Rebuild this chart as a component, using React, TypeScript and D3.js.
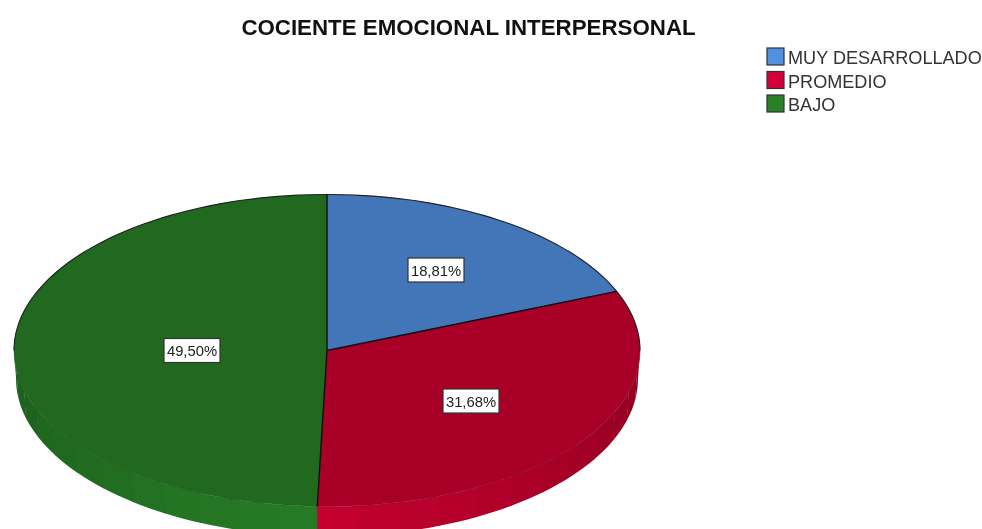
import React from "react";
import * as d3 from "d3";

const categories = ["MUY DESARROLLADO", "PROMEDIO", "BAJO"];
const percentValues = [18.81, 31.68, 49.5];
const percentLabels = ["18,81%", "31,68%", "49,50%"];
const legendColors = ["#5291e2", "#d5003a", "#288028"];
const topColors = ["#4376b8", "#a80026", "#21691f"];
const sideBright = ["#4f8ad6", "#c4002f", "#267d26"];
const sideDark = ["#3a659e", "#8e0020", "#1d5e1c"];
const title = "COCIENTE EMOCIONAL INTERPERSONAL";

const W = 982, H = 529;
const cx = 327, cy = 350.5, rx = 313, ry = 156;
const lowerRx = 311, lowerRy = 158, lowerCy = 378.5;
const FACET = (8 * Math.PI) / 180;

const pie = d3.pie<number>().sort(null).startAngle(0).endAngle(2 * Math.PI);
const arcs = pie(percentValues);
const bigArc = d3.arc<d3.PieArcDatum<number>>().innerRadius(0).outerRadius(rx);
const px = (a: number) => cx + rx * Math.sin(a);
const py = (a: number) => cy - ry * Math.cos(a);
const lx = (a: number) => cx + lowerRx * Math.sin(a);
const ly = (a: number) => lowerCy - lowerRy * Math.cos(a);

type Facet = { key: string; d: string; fill: string };
const facets: Facet[] = [];
arcs.forEach((arc, i) => {
  const start = Math.max(arc.startAngle, Math.PI / 2);
  const end = Math.min(arc.endAngle, (3 * Math.PI) / 2);
  if (end <= start) return;
  const shade = d3.interpolateRgb(sideBright[i], sideDark[i]);
  const n = Math.ceil((end - start) / FACET);
  for (let k = 0; k < n; k++) {
    const a0 = start + ((end - start) * k) / n;
    const a1 = start + ((end - start) * (k + 1)) / n;
    const mid = (a0 + a1) / 2;
    const t = Math.min(1, Math.abs(mid - Math.PI) / (Math.PI / 2));
    const steps = d3.range(0, 5).map((s) => a0 + ((a1 - a0) * s) / 4 + (s === 4 ? 0.004 : 0));
    const path = d3.path();
    steps.forEach((a, s) => (s ? path.lineTo(px(a), py(a)) : path.moveTo(px(a), py(a))));
    [...steps].reverse().forEach((a) => path.lineTo(lx(a), ly(a)));
    path.closePath();
    facets.push({ key: `${i}-${k}`, d: path.toString(), fill: shade(t) });
  }
});

const rimLine = d3
  .line<number>()
  .x((a) => px(a))
  .y((a) => py(a))
  .curve(d3.curveCatmullRom);
const backRim = rimLine(d3.range(0, 61).map((k) => -Math.PI / 2 + (Math.PI * k) / 60)) ?? "";
const frontRim = rimLine(d3.range(0, 61).map((k) => Math.PI / 2 + (Math.PI * k) / 60)) ?? "";

const labelAnchors = [
  { x: 436, y: 270 },
  { x: 471, y: 401 },
  { x: 192, y: 350.5 },
];

export default function App() {
  return (
    <svg
      width={W}
      height={H}
      viewBox={`0 0 ${W} ${H}`}
      style={{ position: "absolute", left: 0, top: 0, display: "block", background: "#fff", filter: "blur(0.35px)" }}
      fontFamily="'Liberation Sans', Arial, sans-serif"
    >
      <text x={468.5} y={35} textAnchor="middle" fontWeight="bold" fontSize={22.3} fill="#111">
        {title}
      </text>

      {categories.map((c, i) => (
        <g key={c} transform={`translate(767, ${48 + i * 23.5})`}>
          <rect x={0} y={0} width={17} height={17} fill={legendColors[i]} stroke="#333" strokeWidth={1.2} />
          <text x={21} y={16} fontSize={18.1} fill="#333">{c}</text>
        </g>
      ))}

      {facets.map((f) => (
        <path key={f.key} d={f.d} fill={f.fill} />
      ))}

      <g transform={`translate(${cx},${cy}) scale(1,${ry / rx})`}>
        {arcs.map((a, i) => (
          <path key={i} d={bigArc(a) ?? ""} fill={topColors[i]} stroke={topColors[i]} strokeWidth={0.5} vectorEffect="non-scaling-stroke" />
        ))}
      </g>

      <path d={frontRim} fill="none" stroke="#000" strokeOpacity={0.12} strokeWidth={1} />
      <path d={backRim} fill="none" stroke="#222" strokeWidth={1.1} />
      {arcs.map((a, i) => (
        <line key={i} x1={cx} y1={cy} x2={px(a.startAngle)} y2={py(a.startAngle)} stroke="#101010" strokeWidth={1.4} />
      ))}

      {percentLabels.map((l, i) => (
        <g key={l} transform={`translate(${labelAnchors[i].x},${labelAnchors[i].y})`}>
          <rect x={-28} y={-12} width={56} height={24} fill="#fff" stroke="#333" strokeWidth={1.2} />
          <text x={0} y={5.5} textAnchor="middle" fontSize={14.8} fill="#222">{l}</text>
        </g>
      ))}
    </svg>
  );
}
